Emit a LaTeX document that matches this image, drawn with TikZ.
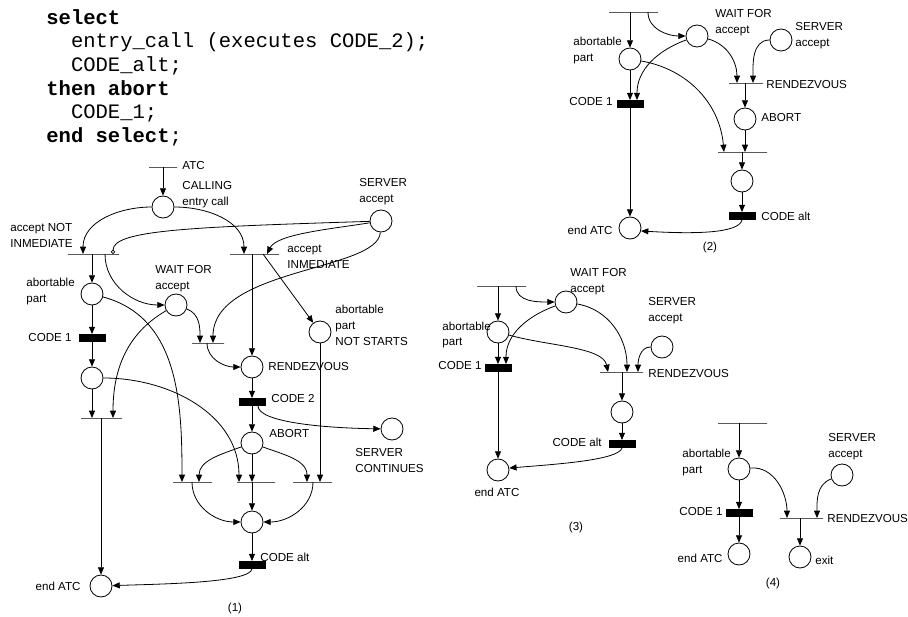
\documentclass[tikz,border=0pt]{standalone}
\usepackage{fontspec}
\setmainfont{Liberation Sans}
\setmonofont{Liberation Mono}
\usetikzlibrary{arrows.meta,positioning}

\tikzset{
  place/.style={circle,draw,minimum size=16.5pt,inner sep=0pt},
  tbar/.style={draw,inner sep=0pt,minimum height=0pt,minimum width=0.75pt*#1},
  tcode/.style={draw,fill=black,inner sep=0pt,minimum width=19.5pt,minimum height=5.25pt},
  lbl/.style={font=\fontsize{8.7}{12}\selectfont,inner sep=0pt,align=left},
  inhib/.style={-{Circle[open,length=3.2pt]}},
}

\begin{document}
\begin{tikzpicture}[x=0.75pt,y=-0.75pt,->,>={Triangle[length=5.5pt,width=4.5pt]},
  line width=0.6pt]
  \useasboundingbox (0,0) rectangle (908,617);

  % the Ada source
  \node[font=\ttfamily\fontsize{15.4}{17.7}\selectfont,align=left,anchor=north west,
    inner sep=0pt] (src) at (46,9)
    {\textbf{select}\\
     \hspace*{1.2em}entry\_call (executes CODE\_2);\\
     \hspace*{1.2em}CODE\_alt;\\
     \textbf{then abort}\\
     \hspace*{1.2em}CODE\_1;\\
     \textbf{end select};};

  %%% net (1)
  \node[tbar=28] (tATC) at (163,167) {};
  \node[place] (pCall) at (163,207) {};
  \node[place] (pSrv) at (381,221) {};
  \node[tbar=51] (tNot) at (93.5,254) {};
  \node[tbar=49] (tImm) at (254.5,254) {};
  \node[place] (pAbort) at (92,294) {};
  \node[place] (pWait) at (176,305) {};
  \node[place] (pNS) at (320,332) {};
  \node[tcode] (cCode1) at (92,338) {};
  \node[tbar=32] (tWait) at (208,343) {};
  \node[place] (pRdv) at (252,367) {};
  \node[place] (pC1) at (92,378) {};
  \node[tcode] (cCode2) at (252,402) {};
  \node[tbar=41] (tEnd1) at (101.5,418) {};
  \node[place] (pSC) at (392,429) {};
  \node[place] (pAb) at (252,443) {};
  \node[tbar=39] (tL) at (192.5,482) {};
  \node[tbar=38] (tM) at (256,482) {};
  \node[tbar=39] (tR) at (312.5,482) {};
  \node[place] (pAlt) at (252,522) {};
  \node[tcode] (cAlt) at (252,565) {};
  \node[place] (pEnd) at (101,586) {};

  \node[lbl,anchor=west] (lATC) at (182,166) {ATC};
  \node[lbl,anchor=west] (lCall) at (182,195) {CALLING\\entry call};
  \node[lbl,anchor=west] (lSrv) at (359,191.5) {SERVER\\accept};
  \node[lbl,anchor=west] (lNot) at (10,235) {accept NOT\\INMEDIATE};
  \node[lbl,anchor=west] (lImm) at (287,257) {accept\\INMEDIATE};
  \node[lbl,anchor=west] (lAbort) at (26,291.5) {abortable\\part};
  \node[lbl,anchor=west] (lWait) at (155,279) {WAIT FOR\\accept};
  \node[lbl,anchor=west] (lNS) at (335,325) {abortable\\part\\NOT STARTS};
  \node[lbl,anchor=east] (lCode1) at (72,338) {CODE 1};
  \node[lbl,anchor=west] (lRdv) at (268,367) {RENDEZVOUS};
  \node[lbl,anchor=west] (lCode2) at (271,399) {CODE 2};
  \node[lbl,anchor=west] (lAb) at (269,434) {ABORT};
  \node[lbl,anchor=west] (lSC) at (355,461) {SERVER\\CONTINUES};
  \node[lbl,anchor=west] (lAlt) at (260,557) {CODE alt};
  \node[lbl,anchor=east] (lEnd) at (81,586) {end ATC};
  \node[lbl] (cap1) at (235,608) {(1)};

  \draw (tATC) -- (pCall);
  \draw (pCall) to[out=180,in=90] (tNot -| 83,0);
  \draw (pCall) to[out=0,in=90] (tImm -| 244,0);
  \draw[inhib] (pSrv) .. controls +(-190,6) and +(0,-24) .. (tNot -| 113,0);
  \draw (pSrv) .. controls +(-50,8) and +(10,-20) .. (tImm -| 267,0);
  \draw (pSrv) .. controls +(-3,50) and +(0,-75) .. (tWait -| 213,0);
  \draw (tNot -| pAbort) -- (pAbort);
  \draw (tNot -| 105,0) to[out=270,in=180] (pWait);
  \draw (tImm -| pRdv) -- (pRdv);
  \draw (tImm -| 263,0) -- (pNS);
  \draw (pWait) to[out=-20,in=90] (tWait -| 200,0);
  \draw (pWait) to[out=210,in=90] (tEnd1 -| 113,0);
  \draw (pAbort) -- (cCode1);
  \draw (cCode1) -- (pC1);
  \draw (pAbort) to[out=-15,in=90] (tL -| 182,0);
  \draw (tWait -| 207,0) to[out=270,in=180] (pRdv);
  \draw (pRdv) -- (cCode2);
  \draw (cCode2) -- (pAb);
  \draw (cCode2.south -| 258,0) .. controls +(0,16) and +(-70,-1) .. (pSC);
  \draw (pC1) -- (tEnd1 -| pC1);
  \draw (pC1) to[out=0,in=90] (tM -| 239,0);
  \draw (tEnd1 -| pEnd) -- (pEnd);
  \draw (pAb) to[out=200,in=90] (tL -| 199,0);
  \draw (pAb) -- (tM -| pAb);
  \draw (pAb) to[out=-20,in=90] (tR -| 307,0);
  \draw (pNS) -- (tR -| pNS);
  \draw (tL -| 192,0) to[out=270,in=180] (pAlt);
  \draw (tM -| pAlt) -- (pAlt);
  \draw (tR -| 313,0) to[out=270,in=0] (pAlt);
  \draw (pAlt) -- (cAlt);
  \draw (cAlt.south) .. controls +(-2,14) and +(60,-2) .. (pEnd);

  %%% net (2)
  \node[tbar=49] (tTop2) at (633.5,12) {};
  \node[place] (pAbp2) at (630,59) {};
  \node[place] (pWait2) at (697,36) {};
  \node[place] (pSrv2) at (781,40) {};
  \node[tbar=34] (tRdv2) at (746,83) {};
  \node[tcode] (cCode1b) at (630,104) {};
  \node[place] (pAbort2) at (745,119) {};
  \node[tbar=49] (tLow2) at (742.5,152) {};
  \node[place] (pM2) at (742,181) {};
  \node[tcode] (cAlt2) at (742,216) {};
  \node[place] (pEnd2) at (630,228) {};

  \node[lbl,anchor=west] (lWait2) at (715,23) {WAIT FOR\\accept};
  \node[lbl,anchor=west] (lAbp2) at (573,51) {abortable\\part};
  \node[lbl,anchor=west] (lSrv2) at (795,36) {SERVER\\accept};
  \node[lbl,anchor=west] (lRdv2) at (766,85) {RENDEZVOUS};
  \node[lbl,anchor=east] (lCode1b) at (613,102) {CODE 1};
  \node[lbl,anchor=west] (lAbort2) at (761,118) {ABORT};
  \node[lbl,anchor=west] (lAlt2) at (761,216) {CODE alt};
  \node[lbl,anchor=east] (lEnd2) at (613,230) {end ATC};
  \node[lbl] (cap2) at (710,247) {(2)};

  \draw (tTop2 -| pAbp2) -- (pAbp2);
  \draw (tTop2 -| 648,0) to[out=270,in=180] (pWait2);
  \draw (pWait2) to[out=-15,in=90] (tRdv2 -| 737,0);
  \draw (pSrv2) to[out=180,in=90] (tRdv2 -| 753,0);
  \draw (pWait2) to[out=200,in=90] (cCode1b.north -| 637,0);
  \draw (pAbp2) -- (cCode1b);
  \draw (pAbp2) to[out=-10,in=95] (tLow2 -| 724,0);
  \draw (tRdv2 -| pAbort2) -- (pAbort2);
  \draw (pAbort2) -- (tLow2 -| pAbort2);
  \draw (tLow2 -| pM2) -- (pM2);
  \draw (pM2) -- (cAlt2);
  \draw (cCode1b) -- (pEnd2);
  \draw (cAlt2.south) .. controls +(-3,14) and +(50,3) .. (pEnd2.-15);

  %%% net (3)
  \node[tbar=49] (tTop3) at (501.5,286) {};
  \node[place] (pAbp3) at (498,332) {};
  \node[place] (pWait3) at (566,302) {};
  \node[place] (pSrv3) at (662,347) {};
  \node[tbar=43] (tRdv3) at (621.5,372) {};
  \node[tcode] (cCode1c) at (498,368) {};
  \node[place] (pM3) at (622,412) {};
  \node[tcode] (cAlt3) at (622,444) {};
  \node[place] (pEnd3) at (498,470) {};

  \node[lbl,anchor=west] (lWait3) at (570,282) {WAIT FOR\\accept};
  \node[lbl,anchor=west] (lAbp3) at (442,335) {abortable\\part};
  \node[lbl,anchor=west] (lSrv3) at (648,311) {SERVER\\accept};
  \node[lbl,anchor=west] (lRdv3) at (648,374) {RENDEZVOUS};
  \node[lbl,anchor=east] (lCode1c) at (482,366) {CODE 1};
  \node[lbl,anchor=east] (lAlt3) at (602,442) {CODE alt};
  \node[lbl] (lEnd3) at (497,492) {end ATC};
  \node[lbl] (cap3) at (576,527) {(3)};

  \draw (tTop3 -| pAbp3) -- (pAbp3);
  \draw (tTop3 -| 516,0) to[out=270,in=180] (pWait3);
  \draw (pAbp3) -- (cCode1c);
  \draw (pWait3) to[out=200,in=90] (cCode1c.north -| 506,0);
  \draw (pWait3) to[out=-10,in=90] (tRdv3 -| 627,0);
  \draw (pAbp3) .. controls +(50,14) and +(-5,-25) .. (tRdv3 -| 608,0);
  \draw (pSrv3) to[out=180,in=90] (tRdv3 -| 638,0);
  \draw (tRdv3 -| pM3) -- (pM3);
  \draw (pM3) -- (cAlt3);
  \draw (cCode1c) -- (pEnd3);
  \draw (cAlt3.south) .. controls +(-3,12) and +(50,-4) .. (pEnd3.10);

  %%% net (4)
  \node[tbar=49] (tTop4) at (742.5,423) {};
  \node[place] (pAbp4) at (739,469) {};
  \node[place] (pSrv4) at (842,475) {};
  \node[tbar=43] (tRdv4) at (801.5,518) {};
  \node[tcode] (cCode1d) at (739,513) {};
  \node[place] (pEnd4) at (739,554) {};
  \node[place] (pExit) at (800,557) {};

  \node[lbl,anchor=west] (lAbp4) at (682,462) {abortable\\part};
  \node[lbl,anchor=west] (lSrv4) at (828,447) {SERVER\\accept};
  \node[lbl,anchor=west] (lRdv4) at (827,519) {RENDEZVOUS};
  \node[lbl,anchor=east] (lCode1d) at (723,512) {CODE 1};
  \node[lbl,anchor=east] (lEnd4) at (723,558) {end ATC};
  \node[lbl,anchor=west] (lExit) at (815,560) {exit};
  \node[lbl] (cap4) at (773,583) {(4)};

  \draw (tTop4 -| pAbp4) -- (pAbp4);
  \draw (pAbp4) -- (cCode1d);
  \draw (cCode1d) -- (pEnd4);
  \draw (pAbp4) to[out=5,in=90] (tRdv4 -| 787,0);
  \draw (pSrv4) to[out=200,in=90] (tRdv4 -| 817,0);
  \draw (tRdv4 -| pExit) -- (pExit);
\end{tikzpicture}
\end{document}
